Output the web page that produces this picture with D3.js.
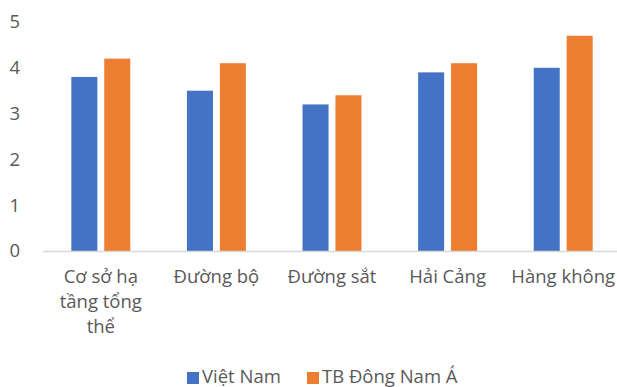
<!DOCTYPE html>
<html>
<head>
<meta charset="utf-8">
<script src="https://cdn.jsdelivr.net/npm/d3@7"></script>
<style>
  body { margin: 0; background: #fff; }
  svg text { font-family: "Open Sans", "Noto Sans", sans-serif; fill: #595959; }
</style>
</head>
<body>
<div id="chart"></div>
<script>
// Chart data
const categories = ["Cơ sở hạ tầng tổng thể", "Đường bộ", "Đường sắt", "Hải Cảng", "Hàng không"];
const seriesNames = ["Việt Nam", "TB Đông Nam Á"];
const vietNam = [3.8, 3.5, 3.2, 3.9, 4.0];
const aseanAvg = [4.2, 4.1, 3.4, 4.1, 4.7];
const yTicks = [0, 1, 2, 3, 4, 5];
const colors = ["#4472C4", "#ED7D31"];

const width = 617, height = 387;
const margin = {top: 22, right: -4, bottom: 136, left: 43};

const svg = d3.select("#chart").append("svg")
    .attr("width", width)
    .attr("height", height);

const x = d3.scaleBand()
    .domain(categories)
    .range([margin.left, width - margin.right])
    .paddingInner(0)
    .paddingOuter(0);

const x1 = d3.scaleBand()
    .domain(seriesNames)
    .range([0, x.bandwidth()])
    .paddingInner(0.21)
    .paddingOuter(0.86);

const y = d3.scaleLinear()
    .domain([0, 5])
    .range([height - margin.bottom, margin.top]);

// y tick labels (no gridlines)
svg.append("g")
    .selectAll("text")
    .data(yTicks)
    .join("text")
    .attr("x", 20)
    .attr("y", d => y(d))
    .attr("dy", "0.35em")
    .attr("text-anchor", "end")
    .style("font-size", "18.5px")
    .text(d => d);

// bars
const rows = categories.map((c, i) => ({cat: c, vals: [vietNam[i], aseanAvg[i]]}));
const groups = svg.append("g")
    .selectAll("g")
    .data(rows)
    .join("g")
    .attr("transform", d => `translate(${x(d.cat)},0)`);

groups.selectAll("rect")
    .data(d => d.vals.map((v, j) => ({name: seriesNames[j], v, j})))
    .join("rect")
    .attr("x", d => x1(d.name))
    .attr("y", d => y(d.v))
    .attr("width", x1.bandwidth())
    .attr("height", d => y(0) - y(d.v))
    .attr("fill", d => colors[d.j]);

// baseline
svg.append("line")
    .attr("x1", margin.left)
    .attr("x2", width)
    .attr("y1", y(0) + 0.5)
    .attr("y2", y(0) + 0.5)
    .attr("stroke", "#D9D9D9")
    .attr("stroke-width", 1.5);

// category labels with wrapping
function wrap(textSel, maxW) {
    textSel.each(function() {
        const t = d3.select(this);
        const words = t.text().split(/\s+/);
        const cx = t.attr("x");
        t.text(null);
        let line = [];
        let tspan = t.append("tspan").attr("x", cx).attr("dy", 0);
        words.forEach(w => {
            line.push(w);
            tspan.text(line.join(" "));
            if (tspan.node().getComputedTextLength() > maxW && line.length > 1) {
                line.pop();
                tspan.text(line.join(" "));
                line = [w];
                tspan = t.append("tspan").attr("x", cx).attr("dy", "25px").text(w);
            }
        });
    });
}

svg.append("g")
    .selectAll("text")
    .data(categories)
    .join("text")
    .attr("x", d => x(d) + x.bandwidth() / 2)
    .attr("y", 283)
    .attr("text-anchor", "middle")
    .style("font-size", "18.5px")
    .text(d => d)
    .call(wrap, 112);

// legend
const legend = svg.append("g");
const legendX = [187, 307];
seriesNames.forEach((s, i) => {
    legend.append("rect")
        .attr("x", legendX[i])
        .attr("y", 372)
        .attr("width", 12)
        .attr("height", 12)
        .attr("fill", colors[i]);
    legend.append("text")
        .attr("x", legendX[i] + 15)
        .attr("y", 383)
        .style("font-size", "18.5px")
        .text(s);
});
</script>
</body>
</html>
